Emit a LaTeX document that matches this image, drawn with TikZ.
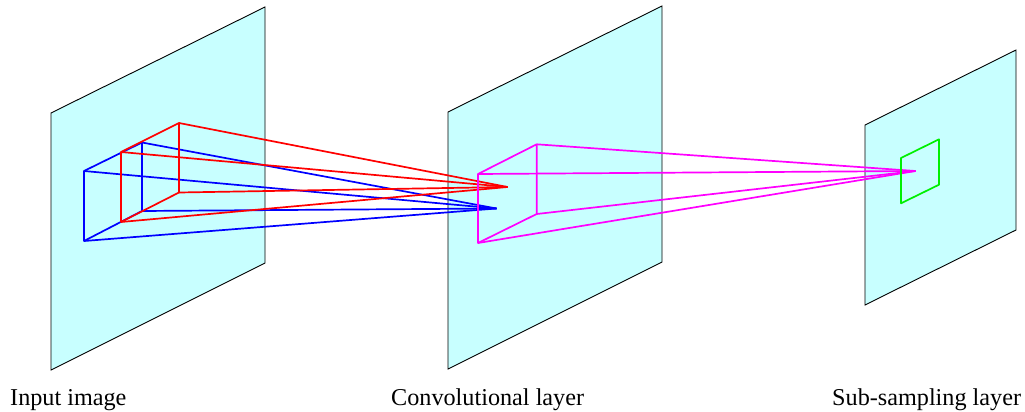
\documentclass[tikz,border=0pt]{standalone}
\usepackage{fontspec}
\setmainfont{Liberation Serif}
\tikzset{
  panel/.style={draw=black,line width=0.9pt,line join=miter},
  wire/.style={line width=1.7pt,line join=round},
  lab/.style={inner sep=0pt,anchor=base west,font=\fontsize{24.2}{28}\selectfont}
}
\definecolor{panelfill}{RGB}{200,255,255}
\definecolor{wmag}{RGB}{255,0,255}
\definecolor{wgreen}{RGB}{0,240,0}
\begin{document}
\begin{tikzpicture}[x=1pt,y=-1pt]
\useasboundingbox (0,0) rectangle (1025,412);
% panels
\draw[panel,fill=panelfill] (51,113) -- (265,7) -- (265,263) -- (51,370) -- cycle;
\draw[panel,fill=panelfill] (448,112) -- (662,6) -- (662,262) -- (448,369) -- cycle;
\draw[panel,fill=panelfill] (865,125) -- (1016,50) -- (1016,230) -- (865,305) -- cycle;
% coordinates
\coordinate (b1) at (84,171); \coordinate (b2) at (142,142.5); \coordinate (b3) at (142,211); \coordinate (b4) at (84,241);
\coordinate (ba) at (496.5,208.5);
\coordinate (r1) at (121,152); \coordinate (r2) at (179,123); \coordinate (r3) at (179,192.5); \coordinate (r4) at (121,222);
\coordinate (ra) at (507.5,187);
\coordinate (m1) at (478,174); \coordinate (m2) at (536.7,144.3); \coordinate (m3) at (536.7,214); \coordinate (m4) at (478,243);
\coordinate (ma) at (915.5,171);
\coordinate (g1) at (901,158); \coordinate (g2) at (939,139.3); \coordinate (g3) at (939,184.7); \coordinate (g4) at (901,203.3);
% blue
\draw[wire,blue] (b1) -- (b2) -- (b3) -- (b4) -- cycle;
\foreach \c in {b1,b2,b3,b4} \draw[wire,blue] (\c) -- (ba);
% red
\draw[wire,red] (r1) -- (r2) -- (r3) -- (r4) -- cycle;
\foreach \c in {r1,r2,r3,r4} \draw[wire,red] (\c) -- (ra);
% magenta
\draw[wire,wmag] (m1) -- (m2) -- (m3) -- (m4) -- cycle;
\foreach \c in {m1,m2,m3,m4} \draw[wire,wmag] (\c) -- (ma);
% green
\draw[wire,wgreen] (g1) -- (g2) -- (g3) -- (g4) -- cycle;
% labels
\node[lab] (l1) at (10,405) {Input image};
\node[lab] (l2) at (391,405) {Convolutional layer};
\node[lab] (l3) at (832,405) {Sub-sampling layer};
\end{tikzpicture}
\end{document}
